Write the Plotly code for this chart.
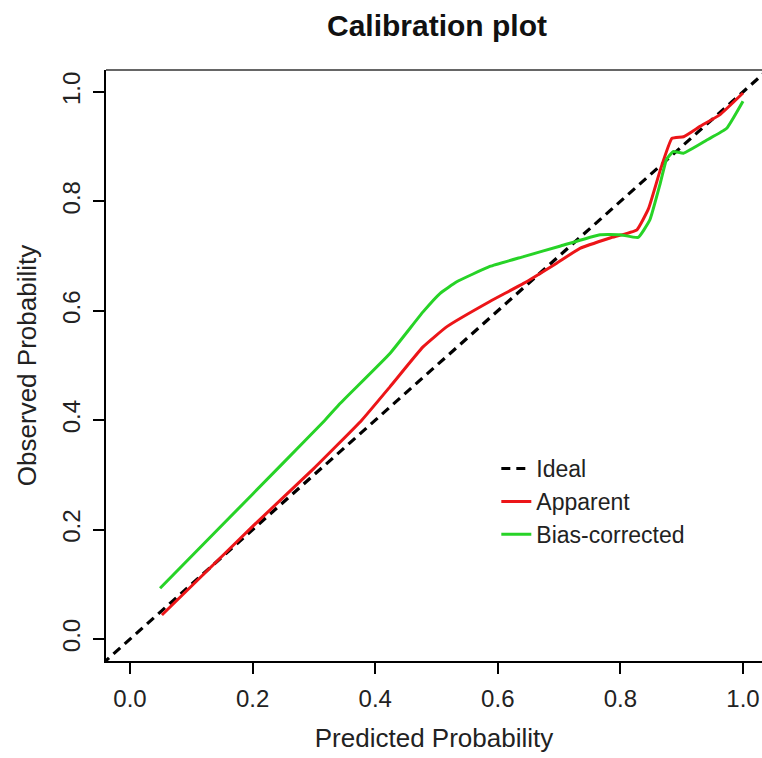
import plotly.graph_objects as go

# ideal diagonal
ideal_x = [-0.1, 1.1]
ideal_y = [-0.1, 1.1]

# apparent calibration curve
app_x = [0.052, 0.125, 0.20, 0.30, 0.378, 0.424, 0.478, 0.517, 0.587, 0.642, 0.696,
         0.734, 0.783, 0.827, 0.846, 0.865, 0.884, 0.903, 0.930, 0.962, 1.0]
app_y = [0.044, 0.124, 0.206, 0.312, 0.400, 0.461, 0.534, 0.571, 0.617, 0.650, 0.687,
         0.714, 0.733, 0.748, 0.787, 0.857, 0.915, 0.918, 0.937, 0.958, 0.998]

# bias-corrected calibration curve
bc_x = [0.049, 0.15, 0.25, 0.318, 0.343, 0.424, 0.478, 0.506, 0.533, 0.587, 0.642,
        0.701, 0.767, 0.799, 0.829, 0.848, 0.865, 0.875, 0.886, 0.903, 0.941, 0.973, 1.0]
bc_y = [0.093, 0.208, 0.322, 0.400, 0.431, 0.522, 0.598, 0.632, 0.653, 0.681, 0.699,
        0.718, 0.739, 0.739, 0.734, 0.766, 0.833, 0.876, 0.891, 0.888, 0.912, 0.933, 0.983]

ticks = [0.0, 0.2, 0.4, 0.6, 0.8, 1.0]
tick_text = ["0.0", "0.2", "0.4", "0.6", "0.8", "1.0"]

font = "Liberation Sans, Arial, sans-serif"

fig = go.Figure()
fig.add_trace(go.Scatter(x=ideal_x, y=ideal_y, mode="lines", name="Ideal",
                         line=dict(color="black", width=3.2, dash="9px,6px")))
fig.add_trace(go.Scatter(x=app_x, y=app_y, mode="lines", name="Apparent",
                         line=dict(color="#ec1518", width=3, shape="spline", smoothing=0.35)))
fig.add_trace(go.Scatter(x=bc_x, y=bc_y, mode="lines", name="Bias-corrected",
                         line=dict(color="#27d327", width=3, shape="spline", smoothing=0.35)))

axis_common = dict(
    showgrid=False, zeroline=False, automargin=False,
    showline=True, linecolor="black", linewidth=2,
    ticks="outside", ticklen=11, tickwidth=2, tickcolor="black",
    tickvals=ticks, ticktext=tick_text,
    tickfont=dict(family=font, size=24, color="#222"),
)

fig.update_layout(
    width=762, height=758,
    margin=dict(l=106, r=0, t=70, b=97),
    plot_bgcolor="white", paper_bgcolor="white",
    title=dict(text="<b>Calibration plot</b>", x=437 / 762, xref="container", xanchor="center",
               y=1 - 25 / 758, yref="container", yanchor="middle",
               font=dict(family=font, size=30, color="#111")),
    xaxis=dict(range=[-0.0392, 1.031], ticklabelstandoff=4,
               title=dict(text="Predicted Probability", standoff=18,
                          font=dict(family=font, size=26, color="#222")),
               **axis_common),
    yaxis=dict(range=[-0.04, 1.04], tickangle=-90, ticklabelstandoff=3,
               title=dict(text="Observed Probability", standoff=14,
                          font=dict(family=font, size=26, color="#222")),
               **axis_common),
    legend=dict(x=0.595, y=0.362, xanchor="left", yanchor="top",
                bgcolor="rgba(0,0,0,0)", tracegroupgap=0,
                font=dict(family=font, size=23, color="#222")),
    shapes=[dict(type="line", xref="paper", yref="paper", x0=0, x1=1, y0=1, y1=1,
                 line=dict(color="#666", width=2))],
)

# drop the default page margin so the figure fills the window exactly
fig.write_html("out.html", config={"displayModeBar": False},
               post_script="document.body.style.margin='0';")
